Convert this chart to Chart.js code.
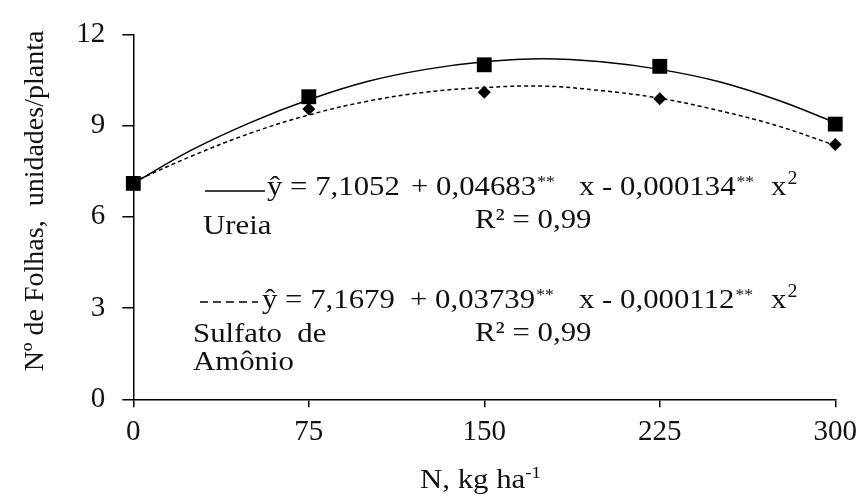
<!DOCTYPE html>
<html>
<head>
<meta charset="utf-8">
<script src="https://cdn.jsdelivr.net/npm/chart.js@4/dist/chart.umd.min.js"></script>
<style>
  body { margin: 0; background: #fff; }
  canvas { display: block; }
</style>
</head>
<body>
<canvas id="grafica" width="865" height="503"></canvas>
<script>
// doses de N (kg/ha) e médias observadas
const doses = [0, 75, 150, 225, 300];
const ureia = [7.1, 9.95, 11.0, 10.95, 9.05];
const sulfato = [7.1, 9.55, 10.1, 9.88, 8.38];

// curvas ajustadas
const curvaX = [0, 25, 50, 75, 100, 125, 150, 175, 200, 225, 250, 275, 300];
const curvaUreia = [7.1, 8.2, 9.1, 9.85, 10.45, 10.85, 11.1, 11.2, 11.1, 10.85, 10.45, 9.85, 9.1];
const curvaSulfato = [7.15, 8.0, 8.75, 9.35, 9.8, 10.1, 10.25, 10.3, 10.15, 9.9, 9.5, 9.0, 8.35];

const ticksX = [0, 75, 150, 225, 300];
const ticksY = [0, 3, 6, 9, 12];

const fonte = '"Liberation Serif", "Times New Roman", serif';
const preto = '#000';

const pares = (xs, ys) => xs.map((x, i) => ({ x: x, y: ys[i] }));

const textos = {
    id: 'textos',
    afterDraw(chart) {
        const ctx = chart.ctx;
        ctx.save();
        ctx.fillStyle = '#111';
        ctx.textBaseline = 'alphabetic';
        ctx.textAlign = 'left';
        // texto levemente alargado, como no original; devolve o x final
        const t = (s, x, y, size) => {
            ctx.save();
            ctx.font = (size || 28) + 'px ' + fonte;
            ctx.translate(x, y);
            ctx.scale(1.1, 1);
            ctx.fillText(s, 0, 0);
            const w = ctx.measureText(s).width * 1.1;
            ctx.restore();
            return x + w;
        };

        // legenda Ureia
        ctx.strokeStyle = preto;
        ctx.lineWidth = 1.5;
        ctx.beginPath();
        ctx.moveTo(205, 191);
        ctx.lineTo(265, 191);
        ctx.stroke();
        t('ŷ = 7,1052', 267, 195);
        let fim = t('+ 0,04683', 411, 195);
        t('**', fim + 1, 187, 16);
        fim = t('x - 0,000134', 579, 195);
        t('**', fim + 1, 187, 16);
        fim = t('x', 771, 195);
        t('2', fim + 1, 184, 18);
        t('R² = 0,99', 475, 228);
        t('Ureia', 203, 234);

        // legenda Sulfato de Amônio
        ctx.setLineDash([8, 5]);
        ctx.beginPath();
        ctx.moveTo(200, 302);
        ctx.lineTo(258, 302);
        ctx.stroke();
        ctx.setLineDash([]);
        t('ŷ = 7,1679', 262, 308);
        fim = t('+ 0,03739', 410, 308);
        t('**', fim + 1, 300, 16);
        fim = t('x - 0,000112', 579, 308);
        t('**', fim + 1, 300, 16);
        fim = t('x', 771, 308);
        t('2', fim + 1, 297, 18);
        t('R² = 0,99', 475, 341);
        t('Sulfato  de', 193, 342);
        t('Amônio', 193, 370);

        // títulos dos eixos
        fim = t('N, kg ha', 420, 488);
        t('-1', fim, 478, 17);
        ctx.translate(36, 201);
        ctx.rotate(-Math.PI / 2);
        ctx.textAlign = 'center';
        ctx.textBaseline = 'middle';
        ctx.font = '28px ' + fonte;
        ctx.fillText('Nº de Folhas,  unidades/planta', 0, 0);
        ctx.restore();
    }
};

const data = {
    datasets: [{
        label: 'Ureia (curva)',
        type: 'line',
        data: pares(curvaX, curvaUreia),
        borderColor: preto,
        borderWidth: 1.5,
        pointRadius: 0,
        tension: 0.4,
        fill: false
    }, {
        label: 'Sulfato (curva)',
        type: 'line',
        data: pares(curvaX, curvaSulfato),
        borderColor: preto,
        borderWidth: 1.5,
        borderDash: [4, 3],
        pointRadius: 0,
        tension: 0.4,
        fill: false
    }, {
        label: 'Sulfato de Amônio',
        data: pares(doses, sulfato),
        pointStyle: 'rectRot',
        pointRadius: 6.5,
        backgroundColor: preto,
        borderColor: preto,
        borderWidth: 0,
        clip: false
    }, {
        label: 'Ureia',
        data: pares(doses, ureia),
        pointStyle: 'rect',
        pointRadius: 10.5,
        backgroundColor: preto,
        borderColor: preto,
        borderWidth: 0,
        clip: false
    }]
};

const config = {
    type: 'scatter',
    data: data,
    plugins: [textos],
    options: {
        responsive: false,
        animation: false,
        layout: {
            padding: { top: 20, right: 28, left: 0, bottom: 0 }
        },
        plugins: {
            legend: { display: false },
            tooltip: { enabled: false }
        },
        scales: {
            x: {
                type: 'linear',
                min: 0,
                max: 300,
                afterFit: (scale) => { scale.height = 103.7; },
                afterBuildTicks: (scale) => { scale.ticks = ticksX.map(v => ({ value: v })); },
                border: { color: preto, width: 1.5 },
                grid: { drawOnChartArea: false, color: preto, lineWidth: 1.5, tickLength: 8 },
                ticks: {
                    color: '#111',
                    padding: 8,
                    maxRotation: 0,
                    font: { family: fonte, size: 29 }
                }
            },
            y: {
                type: 'linear',
                min: 0,
                max: 12,
                afterFit: (scale) => { scale.width = 133.3; },
                afterBuildTicks: (scale) => { scale.ticks = ticksY.map(v => ({ value: v })); },
                border: { color: preto, width: 1.5 },
                grid: { drawOnChartArea: false, color: preto, lineWidth: 1.5, tickLength: 11 },
                ticks: {
                    color: '#111',
                    padding: 17,
                    font: { family: fonte, size: 29 }
                }
            }
        }
    }
};

const ctx = document.getElementById('grafica');
const graficaFolhas = new Chart(ctx, config);
</script>
</body>
</html>
